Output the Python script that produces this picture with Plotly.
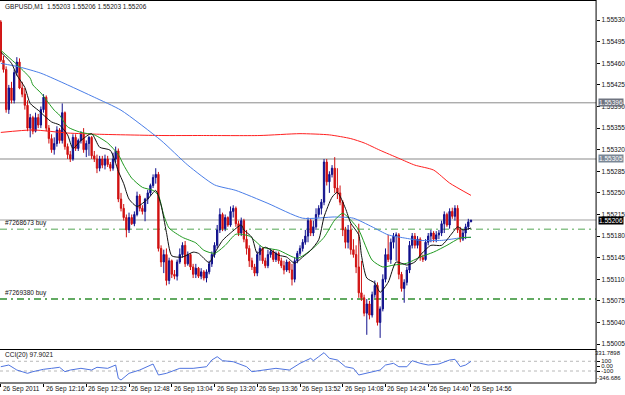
import plotly.graph_objects as go

# ---------------- data (GBPUSD M1, 26 Sep 2011, 12:00 .. 14:56) ----------------
opens = [1.55527,1.55465,1.55450,1.55385,1.55420,1.55400,1.55445,1.55462,1.55420,1.55410,
         1.55392,1.55355,1.55372,1.55350,1.55372,1.55360,1.55385,1.55405,1.55355,1.55338,
         1.55320,1.55330,1.55352,1.55335,1.55380,1.55325,1.55312,1.55305,1.55340,1.55322,
         1.55335,1.55345,1.55320,1.55330,1.55340,1.55310,1.55305,1.55290,1.55305,1.55295,
         1.55305,1.55296,1.55290,1.55305,1.55318,1.55240,1.55225,1.55210,1.55190,1.55210,
         1.55200,1.55215,1.55245,1.55225,1.55220,1.55240,1.55250,1.55262,1.55275,1.55280,
         1.55160,1.55138,1.55150,1.55108,1.55140,1.55118,1.55115,1.55138,1.55150,1.55165,
         1.55135,1.55150,1.55130,1.55118,1.55128,1.55115,1.55122,1.55112,1.55122,1.55135,
         1.55150,1.55165,1.55190,1.55215,1.55192,1.55210,1.55198,1.55220,1.55225,1.55200,
         1.55185,1.55205,1.55175,1.55160,1.55140,1.55130,1.55120,1.55150,1.55160,1.55140,
         1.55132,1.55150,1.55155,1.55142,1.55152,1.55140,1.55132,1.55125,1.55138,1.55125,
         1.55110,1.55140,1.55152,1.55160,1.55170,1.55180,1.55205,1.55185,1.55195,1.55215,
         1.55225,1.55235,1.55300,1.55268,1.55280,1.55290,1.55258,1.55250,1.55235,1.55190,
         1.55170,1.55190,1.55158,1.55150,1.55130,1.55088,1.55080,1.55055,1.55070,1.55052,
         1.55085,1.55100,1.55040,1.55062,1.55110,1.55150,1.55142,1.55170,1.55180,1.55182,
         1.55118,1.55095,1.55105,1.55125,1.55165,1.55180,1.55165,1.55175,1.55145,1.55142,
         1.55170,1.55180,1.55185,1.55175,1.55182,1.55185,1.55200,1.55215,1.55198,1.55220,
         1.55212,1.55225,1.55190,1.55175,1.55185,1.55195,1.55203]
highs = [1.55530,1.55472,1.55455,1.55425,1.55430,1.55450,1.55470,1.55468,1.55430,1.55420,
         1.55400,1.55378,1.55375,1.55380,1.55378,1.55390,1.55410,1.55408,1.55360,1.55345,
         1.55340,1.55358,1.55355,1.55395,1.55382,1.55330,1.55318,1.55345,1.55345,1.55338,
         1.55350,1.55355,1.55335,1.55342,1.55342,1.55318,1.55312,1.55310,1.55310,1.55312,
         1.55310,1.55300,1.55315,1.55325,1.55322,1.55250,1.55232,1.55215,1.55218,1.55215,
         1.55220,1.55252,1.55248,1.55230,1.55242,1.55255,1.55265,1.55280,1.55290,1.55284,
         1.55165,1.55158,1.55160,1.55145,1.55142,1.55125,1.55142,1.55160,1.55170,1.55172,
         1.55155,1.55152,1.55135,1.55135,1.55130,1.55128,1.55125,1.55126,1.55140,1.55155,
         1.55170,1.55198,1.55225,1.55218,1.55215,1.55212,1.55228,1.55230,1.55228,1.55205,
         1.55210,1.55208,1.55190,1.55165,1.55145,1.55135,1.55155,1.55165,1.55162,1.55145,
         1.55158,1.55160,1.55158,1.55155,1.55155,1.55145,1.55140,1.55142,1.55140,1.55135,
         1.55145,1.55156,1.55165,1.55175,1.55190,1.55210,1.55208,1.55205,1.55225,1.55230,
         1.55240,1.55305,1.55305,1.55285,1.55295,1.55308,1.55290,1.55262,1.55238,1.55195,
         1.55198,1.55200,1.55175,1.55165,1.55200,1.55140,1.55085,1.55078,1.55075,1.55090,
         1.55108,1.55105,1.55066,1.55118,1.55160,1.55182,1.55176,1.55185,1.55186,1.55185,
         1.55122,1.55110,1.55130,1.55172,1.55185,1.55185,1.55180,1.55178,1.55150,1.55175,
         1.55185,1.55190,1.55188,1.55188,1.55190,1.55205,1.55220,1.55218,1.55225,1.55226,
         1.55230,1.55230,1.55195,1.55190,1.55200,1.55208,1.55206]
lows = [1.55462,1.55445,1.55380,1.55378,1.55395,1.55395,1.55440,1.55418,1.55405,1.55385,
        1.55350,1.55340,1.55345,1.55348,1.55355,1.55355,1.55380,1.55350,1.55330,1.55315,
        1.55312,1.55325,1.55330,1.55330,1.55320,1.55305,1.55300,1.55302,1.55318,1.55318,
        1.55330,1.55315,1.55308,1.55310,1.55305,1.55300,1.55282,1.55285,1.55290,1.55288,
        1.55292,1.55285,1.55286,1.55300,1.55235,1.55220,1.55205,1.55178,1.55185,1.55198,
        1.55196,1.55212,1.55220,1.55215,1.55204,1.55232,1.55245,1.55258,1.55265,1.55155,
        1.55130,1.55120,1.55100,1.55102,1.55112,1.55110,1.55108,1.55135,1.55145,1.55130,
        1.55132,1.55125,1.55112,1.55112,1.55112,1.55110,1.55108,1.55105,1.55118,1.55130,
        1.55145,1.55160,1.55185,1.55188,1.55188,1.55195,1.55195,1.55210,1.55195,1.55180,
        1.55180,1.55170,1.55150,1.55130,1.55125,1.55115,1.55115,1.55140,1.55135,1.55128,
        1.55128,1.55145,1.55138,1.55138,1.55135,1.55128,1.55118,1.55122,1.55120,1.55100,
        1.55105,1.55136,1.55148,1.55155,1.55166,1.55170,1.55180,1.55180,1.55190,1.55210,
        1.55215,1.55230,1.55262,1.55250,1.55275,1.55250,1.55240,1.55230,1.55180,1.55160,
        1.55160,1.55150,1.55145,1.55120,1.55080,1.55075,1.55050,1.55020,1.55045,1.55048,
        1.55080,1.55035,1.55015,1.55058,1.55105,1.55138,1.55135,1.55160,1.55140,1.55110,
        1.55090,1.55072,1.55100,1.55120,1.55160,1.55160,1.55160,1.55140,1.55138,1.55140,
        1.55165,1.55170,1.55170,1.55170,1.55175,1.55180,1.55185,1.55195,1.55192,1.55208,
        1.55205,1.55185,1.55170,1.55172,1.55175,1.55190,1.55203]
closes = [1.55465,1.55450,1.55385,1.55420,1.55400,1.55445,1.55462,1.55420,1.55410,1.55392,
          1.55355,1.55372,1.55350,1.55372,1.55360,1.55385,1.55405,1.55355,1.55338,1.55320,
          1.55330,1.55352,1.55335,1.55380,1.55325,1.55312,1.55305,1.55340,1.55322,1.55335,
          1.55345,1.55320,1.55330,1.55340,1.55310,1.55305,1.55290,1.55305,1.55295,1.55305,
          1.55296,1.55290,1.55305,1.55318,1.55240,1.55225,1.55210,1.55190,1.55210,1.55200,
          1.55215,1.55245,1.55225,1.55220,1.55240,1.55250,1.55262,1.55275,1.55280,1.55160,
          1.55138,1.55150,1.55108,1.55140,1.55118,1.55115,1.55138,1.55150,1.55165,1.55135,
          1.55150,1.55130,1.55118,1.55128,1.55115,1.55122,1.55112,1.55122,1.55135,1.55150,
          1.55165,1.55190,1.55215,1.55192,1.55210,1.55198,1.55220,1.55225,1.55200,1.55185,
          1.55205,1.55175,1.55160,1.55140,1.55130,1.55120,1.55150,1.55160,1.55140,1.55132,
          1.55150,1.55155,1.55142,1.55152,1.55140,1.55132,1.55125,1.55138,1.55125,1.55110,
          1.55140,1.55152,1.55160,1.55170,1.55180,1.55205,1.55185,1.55195,1.55215,1.55225,
          1.55235,1.55300,1.55268,1.55280,1.55290,1.55258,1.55250,1.55235,1.55190,1.55170,
          1.55190,1.55158,1.55150,1.55130,1.55088,1.55080,1.55055,1.55070,1.55052,1.55085,
          1.55100,1.55040,1.55062,1.55110,1.55150,1.55142,1.55170,1.55180,1.55182,1.55118,
          1.55095,1.55105,1.55125,1.55165,1.55180,1.55165,1.55175,1.55145,1.55142,1.55170,
          1.55180,1.55185,1.55175,1.55182,1.55185,1.55200,1.55215,1.55198,1.55220,1.55212,
          1.55225,1.55190,1.55175,1.55185,1.55195,1.55203,1.55206]

# moving averages at sample bars: (bar index, price)
ma_fast = [(0,1.55478),(4,1.55460),(6,1.55441),(9,1.55421),(11,1.55395),(14,1.55384),(19,1.55365),
           (22,1.55360),(25,1.55344),(27,1.55322),(30,1.55335),(34,1.55346),(37,1.55324),(41,1.55319),
           (44,1.55285),(46,1.55265),(48,1.55240),(51,1.55228),(55,1.55240),(58,1.55254),(60,1.55230),
           (62,1.55186),(64,1.55148),(68,1.55146),(72,1.55154),(74,1.55152),(78,1.55137),(80,1.55152),
           (83,1.55173),(86,1.55185),(90,1.55198),(91,1.55190),(94,1.55178),(96,1.55152),(99,1.55162),
           (104,1.55149),(107,1.55146),(110,1.55136),(113,1.55146),(116,1.55157),(119,1.55174),
           (121,1.55211),(124,1.55243),(126,1.55251),(129,1.55225),(131,1.55201),(134,1.55182),
           (135,1.55149),(137,1.55112),(140,1.55104),(142,1.55089),(145,1.55105),(148,1.55138),
           (152,1.55133),(155,1.55138),(157,1.55149),(161,1.55165),(165,1.55165),(169,1.55185),
           (171,1.55195),(173,1.55190),(176,1.55193)]
ma_mid = [(0,1.55481),(5,1.55462),(7,1.55454),(11,1.55436),(12,1.55425),(15,1.55412),(20,1.55384),
          (22,1.55376),(25,1.55357),(30,1.55348),(35,1.55344),(40,1.55331),(44,1.55312),(46,1.55295),
          (49,1.55274),(53,1.55259),(57,1.55254),(59,1.55246),(61,1.55214),(63,1.55193),(68,1.55178),
          (73,1.55169),(76,1.55157),(80,1.55152),(84,1.55165),(88,1.55183),(93,1.55180),(98,1.55162),
          (104,1.55157),(111,1.55144),(116,1.55157),(121,1.55178),(125,1.55206),(128,1.55217),
          (131,1.55206),(134,1.55190),(139,1.55141),(143,1.55130),(147,1.55133),(152,1.55136),
          (157,1.55146),(162,1.55154),(167,1.55165),(172,1.55177),(176,1.55178)]
ma_slow = [(0,1.55460),(7,1.55454),(15,1.55444),(25,1.55425),(35,1.55405),(45,1.55384),(60,1.55335),
           (70,1.55295),(80,1.55263),(88,1.55254),(100,1.55233),(113,1.55209),(125,1.55211),
           (132,1.55209),(139,1.55195),(145,1.55182),(151,1.55177),(157,1.55173),(165,1.55173),
           (172,1.55177),(176,1.55178)]
ma_long = [(0,1.55348),(12,1.55352),(25,1.55347),(37,1.55345),(60,1.55343),(75,1.55343),(97,1.55343),
           (112,1.55346),(123,1.55344),(131,1.55338),(136,1.55331),(142,1.55319),(149,1.55306),
           (155,1.55295),(162,1.55287),(168,1.55266),(176,1.55246)]

cci = [(0,-12),(3,23),(5,-45),(6,-80),(8,-114),(10,-148),(12,-114),(16,-65),(19,-45),(22,-24),
       (24,-114),(26,-80),(30,-45),(34,-80),(36,-24),(40,-45),(43,23),(44,-250),(45,-285),(48,-148),
       (52,-80),(57,44),(59,-182),(62,-148),(67,-45),(72,-45),(77,-12),(79,126),(81,194),(83,112),
       (87,91),(92,-12),(94,-114),(98,-80),(103,-45),(108,-80),(112,58),(116,161),(117,112),(119,194),
       (121,277),(123,161),(126,126),(129,-12),(132,-45),(134,-182),(137,-148),(139,-114),(142,-80),
       (144,23),(147,58),(149,-12),(152,-12),(154,112),(157,58),(160,23),(164,44),(168,126),(170,140),
       (172,-10),(174,23),(176,97.9021)]

time_ticks = [0, 16, 32, 48, 64, 80, 96, 112, 128, 144, 160, 176]
time_labels = ["26 Sep 2011", "26 Sep 12:16", "26 Sep 12:32", "26 Sep 12:48", "26 Sep 13:04",
               "26 Sep 13:20", "26 Sep 13:36", "26 Sep 13:52", "26 Sep 14:08", "26 Sep 14:24",
               "26 Sep 14:40", "26 Sep 14:56"]
price_ticks = [1.55005, 1.55040, 1.55075, 1.55110, 1.55145, 1.55180, 1.55215, 1.55250, 1.55285,
               1.55320, 1.55355, 1.55390, 1.55425, 1.55460, 1.55495, 1.55530]
cci_ticks = [100, 0, -100]
cci_tick_labels = ["100", "0.00", "-100"]
cci_max, cci_min = 331.7898, -346.686

level_lines = [(1.55396, "#8a8a8a", 1, "solid"), (1.55305, "#c4c4c4", 2, "solid"),
               (1.55206, "#cfcfcf", 2, "solid")]
order_lines = [(1.55191, "#8cc48c", "#7268673 buy"), (1.55078, "#2f8f2f", "#7269380 buy")]
title_text = "GBPUSD,M1  1.55203 1.55206 1.55203 1.55206"
cci_title = "CCI(20) 97.9021"

# ---------------- figure ----------------
W, H = 625, 395
XR = 598 / W                       # right edge of plot panels
main_dom = [(H - 349) / H, (H - 1) / H]
cci_dom = [(H - 383) / H, (H - 350) / H]
FONT = "Liberation Sans, Arial, sans-serif"
idx = list(range(len(closes)))

fig = go.Figure()
fig.add_trace(go.Candlestick(
    x=idx, open=opens, high=highs, low=lows, close=closes,
    increasing=dict(line=dict(color="#10108c", width=1), fillcolor="#10108c"),
    decreasing=dict(line=dict(color="#d01010", width=1), fillcolor="#d01010"),
    whiskerwidth=0, xaxis="x", yaxis="y", hoverinfo="skip"))

for series, color in [(ma_long, "#ff2020"), (ma_slow, "#4a7ee8"), (ma_mid, "#1f9a1f"), (ma_fast, "#101010")]:
    fig.add_trace(go.Scatter(x=[p[0] for p in series], y=[p[1] for p in series], mode="lines",
                             line=dict(color=color, width=1, shape="spline", smoothing=0.6),
                             xaxis="x", yaxis="y", hoverinfo="skip"))

fig.add_trace(go.Scatter(x=[p[0] for p in cci], y=[p[1] for p in cci], mode="lines",
                         line=dict(color="#4f74e0", width=1), xaxis="x2", yaxis="y2", hoverinfo="skip"))

shapes = []
for price, color, width, dash in level_lines:
    shapes.append(dict(type="line", xref="paper", yref="y", x0=0, x1=XR, y0=price, y1=price,
                       line=dict(color=color, width=width, dash=dash), layer="below"))
for price, color, _ in order_lines:
    shapes.append(dict(type="line", xref="paper", yref="y", x0=0, x1=XR, y0=price, y1=price,
                       line=dict(color=color, width=1.5, dash="7px,4px,2px,4px"), layer="below"))
for lv in [100, -100]:
    shapes.append(dict(type="line", xref="paper", yref="y2", x0=0, x1=XR, y0=lv, y1=lv,
                       line=dict(color="#b8b8b8", width=1, dash="dot"), layer="below"))
# panel borders
for yp in [main_dom[1] + 0.5 / H, main_dom[0] - 0.5 / H, cci_dom[0]]:
    shapes.append(dict(type="line", xref="paper", yref="paper", x0=0, x1=XR, y0=yp, y1=yp,
                       line=dict(color="#000000", width=1)))
shapes.append(dict(type="line", xref="paper", yref="paper", x0=XR, x1=XR, y0=cci_dom[0], y1=1,
                   line=dict(color="#000000", width=1)))

ann = []
ann.append(dict(text=title_text, xref="paper", yref="paper", x=3 / W, y=(H - 7) / H, xanchor="left",
                yanchor="middle", showarrow=False, font=dict(family=FONT, size=6.5, color="#111")))
for price, color, label in order_lines:
    ann.append(dict(text=label, xref="paper", yref="y", x=3 / W, y=price, xanchor="left",
                    yanchor="bottom", yshift=0, showarrow=False,
                    font=dict(family=FONT, size=6.5, color="#111")))
ann.append(dict(text=cci_title, xref="paper", yref="paper", x=3 / W, y=(H - 355) / H, xanchor="left",
                yanchor="middle", showarrow=False, font=dict(family=FONT, size=6.5, color="#111")))
for price, bg in [(1.55396, "#6f7480"), (1.55305, "#7a8796"), (1.55206, "#000000")]:
    ann.append(dict(text=f"{price:.5f}", xref="paper", yref="y", x=(XR * W + 2) / W, y=price,
                    xanchor="left", yanchor="middle", showarrow=False, bgcolor=bg, borderpad=0,
                    font=dict(family=FONT, size=6.5, color="#ffffff")))
ann.append(dict(text=f"{cci_max:.4f}", xref="paper", yref="paper", x=1, xshift=-0.5, y=(H - 353) / H,
                xanchor="right", yanchor="middle", showarrow=False, font=dict(family=FONT, size=6, color="#111")))
ann.append(dict(text=f"{cci_min:.3f}", xref="paper", yref="paper", x=1, xshift=-0.5, y=(H - 378) / H,
                xanchor="right", yanchor="middle", showarrow=False, font=dict(family=FONT, size=6, color="#111")))
for t, lab in zip(time_ticks, time_labels):
    ann.append(dict(text=lab, xref="x2", yref="paper", x=t, y=(H - 389) / H, xanchor="left",
                    yanchor="middle", xshift=0, showarrow=False, font=dict(family=FONT, size=6.5, color="#111")))

xr = [-0.3, -0.3 + 598 / 2.68]
fig.update_layout(
    width=W, height=H, margin=dict(l=0, r=0, t=0, b=0),
    paper_bgcolor="#ffffff", plot_bgcolor="#ffffff", showlegend=False,
    font=dict(family=FONT, size=6.5, color="#111"),
    xaxis=dict(domain=[0, XR], range=xr, anchor="y", showticklabels=False, showgrid=False,
               zeroline=False, rangeslider=dict(visible=False), ticks=""),
    xaxis2=dict(domain=[0, XR], range=xr, anchor="y2", matches="x", showticklabels=False, showgrid=False,
                zeroline=False, ticks="outside", ticklen=3, tickcolor="#000", tickvals=time_ticks),
    yaxis=dict(domain=main_dom, range=[1.54997, 1.55561], side="right", anchor="x", showgrid=False,
               zeroline=False, ticks="outside", ticklen=3, tickcolor="#000", tickvals=price_ticks,
               ticktext=[f"{p:.5f}" for p in price_ticks], tickfont=dict(size=6.5)),
    yaxis2=dict(domain=cci_dom, range=[cci_min, cci_max], side="right", anchor="x2", showgrid=False,
                zeroline=False, ticks="outside", ticklen=3, tickcolor="#000", tickvals=cci_ticks,
                ticktext=cci_tick_labels, tickfont=dict(size=6)),
    shapes=shapes, annotations=ann)

fig.write_html("out.html")
